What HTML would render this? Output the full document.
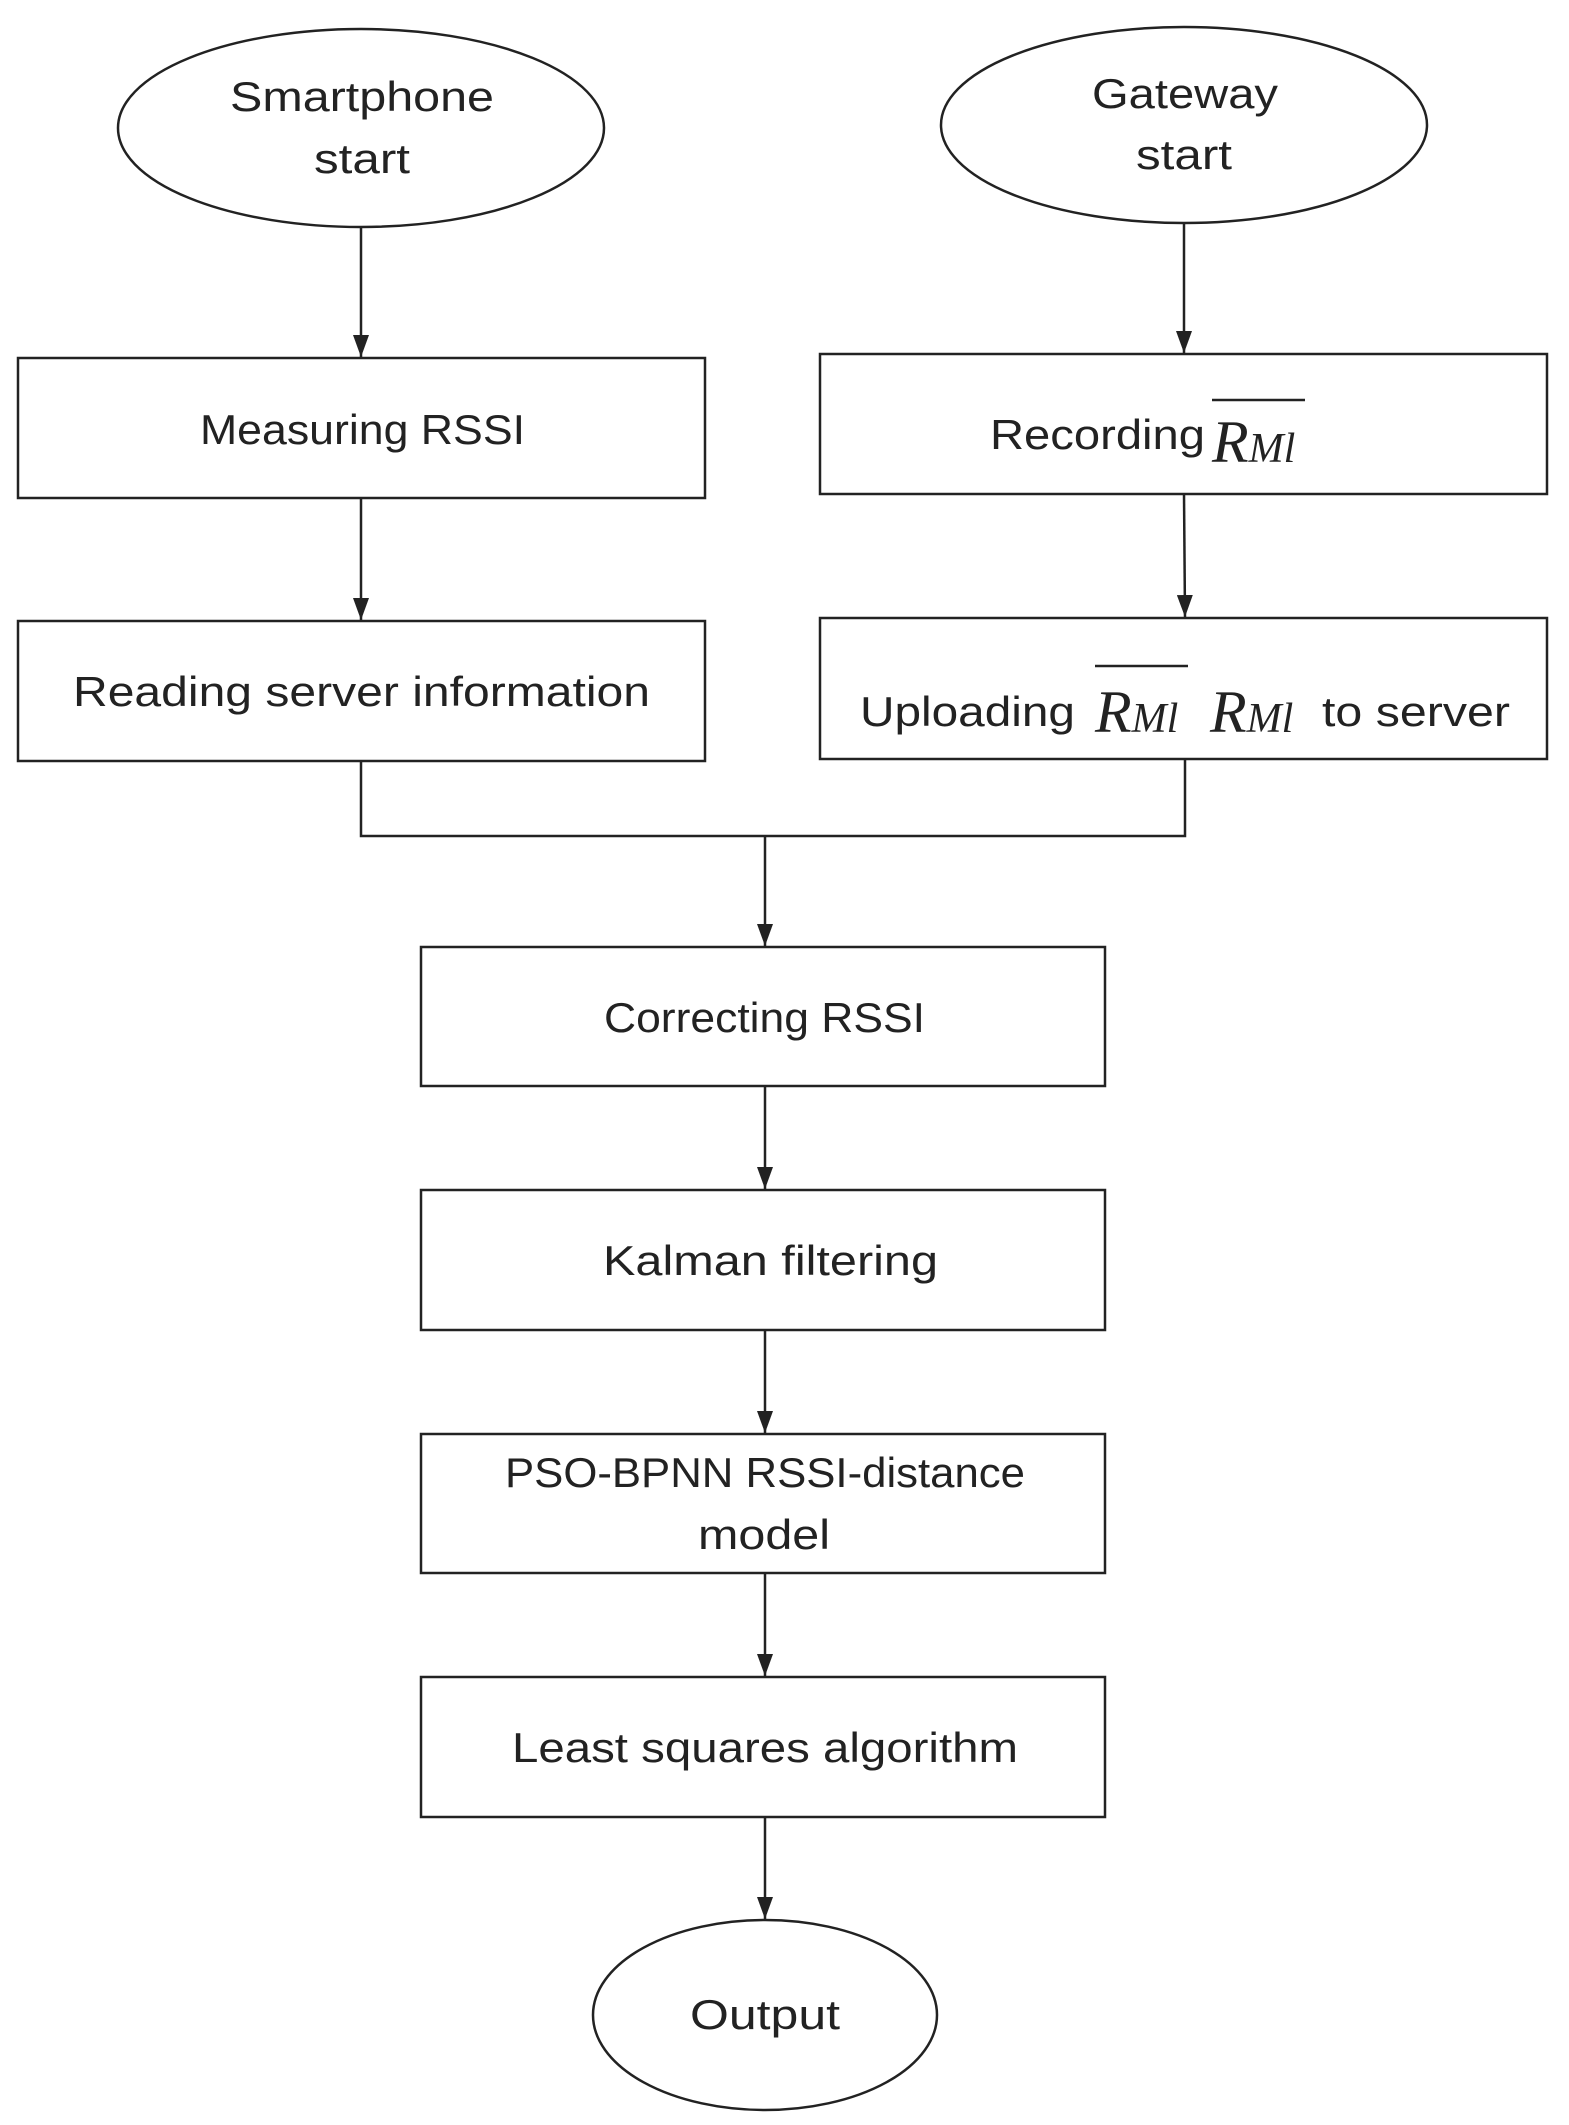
<!DOCTYPE html>
<html><head><meta charset="utf-8"><style>html,body{margin:0;padding:0;background:#fff}svg{display:block}</style></head>
<body>
<svg width="1569" height="2125" viewBox="0 0 1569 2125" xmlns="http://www.w3.org/2000/svg">
<defs><marker id="a" markerWidth="22" markerHeight="16" refX="22" refY="8" orient="auto" markerUnits="userSpaceOnUse" viewBox="0 0 22 16"><path d="M0,0 L22,8 L0,16 z" fill="#222"/></marker></defs>
<g fill="none" stroke="#222" stroke-width="2.5">
<ellipse cx="361" cy="128" rx="243" ry="99"/>
<ellipse cx="1184" cy="125" rx="243" ry="98"/>
<rect x="18" y="358" width="687" height="140"/>
<rect x="820" y="354" width="727" height="140"/>
<rect x="18" y="621" width="687" height="140"/>
<rect x="820" y="618" width="727" height="141"/>
<rect x="421" y="947" width="684" height="139"/>
<rect x="421" y="1190" width="684" height="140"/>
<rect x="421" y="1434" width="684" height="139"/>
<rect x="421" y="1677" width="684" height="140"/>
<ellipse cx="765" cy="2015" rx="172" ry="95"/>
<line x1="361" y1="227" x2="361" y2="357" marker-end="url(#a)"/>
<line x1="1184" y1="223" x2="1184" y2="353" marker-end="url(#a)"/>
<line x1="361" y1="498" x2="361" y2="620" marker-end="url(#a)"/>
<line x1="1184" y1="494" x2="1185" y2="617" marker-end="url(#a)"/>
<polyline points="361,761 361,836 1185,836 1185,759"/>
<line x1="765" y1="836" x2="765" y2="946" marker-end="url(#a)"/>
<line x1="765" y1="1086" x2="765" y2="1189" marker-end="url(#a)"/>
<line x1="765" y1="1330" x2="765" y2="1433" marker-end="url(#a)"/>
<line x1="765" y1="1573" x2="765" y2="1676" marker-end="url(#a)"/>
<line x1="765" y1="1817" x2="765" y2="1919" marker-end="url(#a)"/>
<line x1="1212" y1="400" x2="1305" y2="400"/>
<line x1="1095" y1="666" x2="1188" y2="666"/>
</g>
<g font-family="Liberation Sans, sans-serif" font-size="42" fill="#222">
<text x="230" y="111" textLength="264" lengthAdjust="spacingAndGlyphs">Smartphone</text>
<text x="314" y="173" textLength="96" lengthAdjust="spacingAndGlyphs">start</text>
<text x="1092" y="108" textLength="186" lengthAdjust="spacingAndGlyphs">Gateway</text>
<text x="1136" y="169" textLength="96" lengthAdjust="spacingAndGlyphs">start</text>
<text x="200" y="444" textLength="325" lengthAdjust="spacingAndGlyphs">Measuring RSSI</text>
<text x="990" y="449" textLength="215" lengthAdjust="spacingAndGlyphs">Recording</text>
<text x="73" y="706" textLength="577" lengthAdjust="spacingAndGlyphs">Reading server information</text>
<text x="860" y="726" textLength="215" lengthAdjust="spacingAndGlyphs">Uploading</text>
<text x="1322" y="726" textLength="188" lengthAdjust="spacingAndGlyphs">to server</text>
<text x="604" y="1032" textLength="321" lengthAdjust="spacingAndGlyphs">Correcting RSSI</text>
<text x="603" y="1275" textLength="335" lengthAdjust="spacingAndGlyphs">Kalman filtering</text>
<text x="505" y="1487" textLength="520" lengthAdjust="spacingAndGlyphs">PSO-BPNN RSSI-distance</text>
<text x="698" y="1549" textLength="132" lengthAdjust="spacingAndGlyphs">model</text>
<text x="512" y="1762" textLength="506" lengthAdjust="spacingAndGlyphs">Least squares algorithm</text>
<text x="690" y="2029" textLength="150" lengthAdjust="spacingAndGlyphs">Output</text>
</g>
<g font-family="Liberation Serif, serif" font-style="italic" fill="#222">
<text x="1212" y="462" font-size="60">R<tspan font-size="42">Ml</tspan></text>
<text x="1095" y="732" font-size="60">R<tspan font-size="42">Ml</tspan></text>
<text x="1210" y="732" font-size="60">R<tspan font-size="42">Ml</tspan></text>
</g>
</svg>
</body></html>
